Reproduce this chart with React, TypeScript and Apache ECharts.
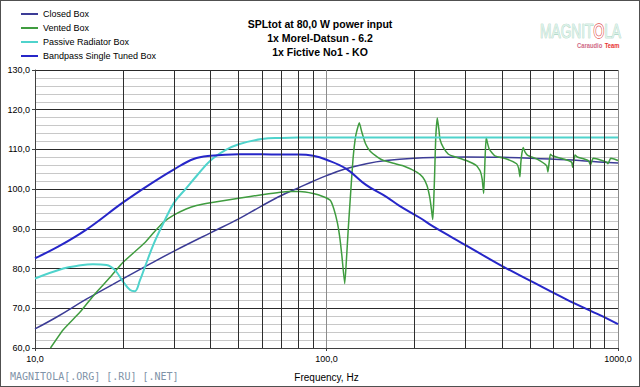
import React, { useEffect, useRef } from 'react';
import * as echarts from 'echarts';

const titleLines = ['SPLtot at 80,0 W power input', '1x Morel-Datsun - 6.2', '1x Fictive No1 - KO'];
const seriesNames = ['Closed Box', 'Vented Box', 'Passive Radiator Box', 'Bandpass Single Tuned Box'];
const xAxisName = 'Frequency, Hz';
const footerText = 'MAGNITOLA[.ORG] [.RU] [.NET]';
const xGridFreqs = [20, 30, 40, 50, 60, 70, 80, 90, 200, 300, 400, 500, 600, 700, 800, 900];

const closedFreq = [10, 12, 15, 20, 25, 30, 40, 50, 60, 70, 80, 90, 100, 115, 137, 160, 200, 250, 300, 400, 500, 667, 800, 1000];
const closedSpl = [64.8, 68.0, 72.3, 77.4, 81.3, 84.4, 89.0, 92.5, 95.8, 98.4, 100.3, 102.0, 103.4, 105.0, 106.4, 107.2, 107.8, 108.0, 108.1, 108.0, 107.8, 107.4, 107.0, 106.6];

const ventedFreq = [11.3, 12.5, 14.3, 16, 18.1, 20, 23.8, 25.5, 27.5, 30, 33, 35.8, 40, 50, 60, 74, 81, 90, 97.6, 103, 106, 109, 111, 113, 115.5, 117, 118.8, 121, 123.3, 126, 129.6, 132, 136, 141, 150, 157, 170, 183, 204, 214, 221, 226, 229, 231.4, 233, 235, 237, 240, 243, 245, 251.5, 262, 272, 302, 327, 337, 342, 346, 348, 350, 353, 357, 362, 378, 415, 449, 456, 461, 464, 468, 473, 480, 490, 526, 569, 575, 580, 586, 595, 649, 693, 699, 705, 712, 725, 791, 805, 813, 821, 850, 914, 924, 935, 944, 970, 1000];
const ventedSpl = [60.0, 64.6, 69.1, 73.5, 77.8, 81.5, 86.5, 89.0, 91.6, 93.5, 95.0, 95.9, 96.6, 97.7, 98.6, 99.4, 99.4, 98.9, 98.1, 97.2, 95.0, 91.5, 88.0, 83.0, 76.2, 82.0, 90.2, 99.0, 107.6, 113.5, 116.7, 114.5, 111.5, 109.6, 108.0, 107.2, 106.5, 105.9, 104.3, 103.0, 101.0, 98.0, 95.0, 92.3, 96.0, 104.0, 113.0, 117.9, 115.0, 112.6, 110.5, 108.8, 108.3, 107.2, 105.9, 104.5, 102.5, 98.9, 103.0, 108.0, 113.0, 111.5, 110.0, 108.4, 107.6, 106.4, 105.3, 103.1, 106.5, 109.0, 110.5, 109.3, 108.5, 107.6, 105.9, 104.3, 106.5, 108.8, 108.4, 107.6, 106.8, 105.5, 107.0, 108.6, 108.1, 107.2, 106.1, 107.0, 107.8, 107.6, 106.8, 106.4, 107.2, 107.8, 107.6, 107.2];

const passiveFreq = [10, 12.5, 14, 15.8, 17.6, 18.8, 20.1, 21.2, 22, 22.9, 23.8, 25.5, 27.6, 30, 33, 36, 40, 45, 50, 60, 70, 80, 100, 200, 500, 1000];
const passiveSpl = [77.5, 80.0, 80.7, 81.1, 80.9, 79.6, 76.6, 74.6, 74.3, 77.0, 80.3, 86.1, 91.5, 96.6, 100.2, 103.5, 107.2, 109.8, 111.3, 112.6, 112.9, 113.0, 113.0, 113.0, 113.0, 113.0];

const bandpassFreq = [10, 12, 15, 20, 25, 30, 35, 40, 50, 60, 70, 80, 90, 100, 117, 137, 161, 178, 209, 232, 302, 392, 513, 667, 871, 1000];
const bandpassSpl = [82.6, 85.5, 89.8, 96.6, 101.4, 105.0, 107.6, 108.4, 108.8, 108.8, 108.7, 108.7, 108.4, 107.4, 105.1, 101.0, 98.0, 95.8, 92.8, 90.6, 85.8, 81.0, 76.5, 72.2, 68.2, 66.0];

const colors = ['#3c3c96', '#3f9c3f', '#4fd3cc', '#2626c8'];
const widths = [1.5, 1.5, 2, 2];

const zip = (xs: number[], ys: number[]) => xs.map((x, i) => [x, ys[i]]);
const fmt = (v: number) => Number(v).toFixed(1).replace('.', ',');
const FONT = 'Liberation Sans, Arial, sans-serif';

export default function App() {
  const ref = useRef<HTMLDivElement>(null);
  useEffect(() => {
    if (!ref.current) return;
    const chart = echarts.init(ref.current, undefined, { renderer: 'svg' });
    const datasets = [
      zip(closedFreq, closedSpl),
      zip(ventedFreq, ventedSpl),
      zip(passiveFreq, passiveSpl),
      zip(bandpassFreq, bandpassSpl),
    ];
    const smooths = [0.4, 0.15, 0.4, 0.4];
    const option: any = {
      animation: false,
      backgroundColor: '#ffffff',
      textStyle: { fontFamily: FONT },
      title: {
        text: titleLines.join('\n'),
        left: 'center',
        top: 12,
        textStyle: { fontSize: 10.5, fontWeight: 'bold', color: '#000', lineHeight: 14, fontFamily: FONT },
      },
      legend: {
        data: seriesNames,
        orient: 'vertical',
        left: 21,
        top: 7,
        padding: 0,
        itemGap: 0,
        itemWidth: 17,
        itemHeight: 2,
        icon: 'rect',
        textStyle: { fontSize: 9, color: '#000', lineHeight: 14, fontFamily: FONT },
      },
      grid: { left: 35, right: 22, top: 70, bottom: 35, containLabel: false },
      xAxis: {
        type: 'log',
        logBase: 10,
        min: 10,
        max: 1000,
        name: xAxisName,
        nameLocation: 'middle',
        nameGap: 24,
        nameTextStyle: { fontSize: 10, color: '#000', fontFamily: FONT },
        axisLine: { show: true, onZero: false, lineStyle: { color: '#404040', width: 1 } },
        axisTick: { show: true, length: 3, lineStyle: { color: '#404040' } },
        axisLabel: { fontSize: 9, color: '#000', margin: 6, formatter: fmt, fontFamily: FONT },
        splitLine: { show: true, lineStyle: { color: '#8c8c8c', width: 1 } },
      },
      yAxis: {
        type: 'value',
        min: 60,
        max: 130,
        interval: 10,
        axisLine: { show: true, lineStyle: { color: '#404040', width: 1 } },
        axisTick: { show: true, length: 3, lineStyle: { color: '#404040' } },
        axisLabel: { fontSize: 9, color: '#000', margin: 5, formatter: fmt, fontFamily: FONT },
        splitLine: { show: true, lineStyle: { color: '#2a2a2a', width: 1 } },
        minorTick: { show: false, splitNumber: 5 },
        minorSplitLine: { show: true, lineStyle: { color: '#c8c8c8', width: 1 } },
      },
      series: [
        {
          name: 'grid',
          type: 'line',
          data: [[10, 60]],
          symbol: 'none',
          silent: true,
          lineStyle: { opacity: 0 },
          markLine: {
            silent: true,
            symbol: ['none', 'none'],
            label: { show: false },
            lineStyle: { color: '#2e2e2e', width: 1, type: 'solid' },
            emphasis: { disabled: true },
            data: xGridFreqs.map((f) => ({ xAxis: f })),
          },
        },
        ...seriesNames.map((name, i) => ({
          name,
          type: 'line',
          data: datasets[i],
          symbol: 'none',
          showSymbol: false,
          smooth: smooths[i],
          color: colors[i],
          lineStyle: { color: colors[i], width: widths[i] },
          emphasis: { disabled: true },
        })),
      ],
      graphic: [
        {
          type: 'rect',
          silent: true,
          shape: { x: 0, y: 0, width: 640, height: 387 },
          style: { fill: 'none', stroke: '#505050', lineWidth: 2 },
        },
        {
          type: 'text',
          x: 540,
          y: 20,
          scaleX: 0.655,
          style: {
            text: '{a|MAGNIT}{o|O}{a|LA}',
            rich: {
              a: { fontSize: 21, fontFamily: FONT, fill: '#dcf1e8', stroke: '#97c9b5', lineWidth: 0.7 },
              o: { fontSize: 21, fontFamily: FONT, fill: '#ffffff', stroke: '#e04a4a', lineWidth: 1.6 },
            },
          },
        },
        {
          type: 'text',
          x: 577,
          y: 39,
          scaleX: 0.73,
          style: {
            text: '{c|Caraudio} {t|Team}',
            rich: {
              c: { fontSize: 8, fontWeight: 'bold', fontFamily: FONT, fill: '#cf6a86' },
              t: { fontSize: 8, fontWeight: 'bold', fontFamily: FONT, fill: '#e83232' },
            },
          },
        },
        {
          type: 'text',
          x: 10,
          y: 371,
          style: {
            text: footerText,
            font: '10px "DejaVu Sans Mono", monospace',
            fill: '#7f93a8',
          },
        },
      ],
    };
    chart.setOption(option);
    return () => chart.dispose();
  }, []);
  return <div ref={ref} style={{ position: 'absolute', left: 0, top: 0, width: 640, height: 387 }} />;
}
